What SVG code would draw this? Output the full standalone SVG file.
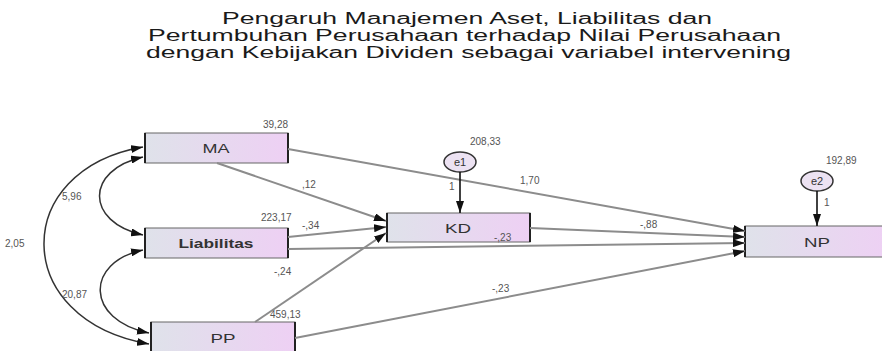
<svg xmlns="http://www.w3.org/2000/svg" width="882" height="351" viewBox="0 0 882 351">
  <style>
    .title { font-family: "Liberation Sans", Arial, sans-serif; font-size: 16px; fill: #1a1a1a; }
    .node-label { font-family: "Liberation Sans", Arial, sans-serif; font-size: 13px; fill: #333; text-anchor: middle; }
    .err-label { font-family: "Liberation Sans", Arial, sans-serif; font-size: 11px; fill: #333; text-anchor: middle; }
    .val { font-family: "Liberation Sans", Arial, sans-serif; font-size: 10px; fill: #555; }
    .box { fill: url(#boxFill); stroke: #666; stroke-width: 1; }
    .edge { stroke: #222; stroke-width: 2; }
    .path-line { fill: none; stroke: #8c8c8c; stroke-width: 2; marker-end: url(#ah); }
    .cov { fill: none; stroke: #333; stroke-width: 1.5; marker-start: url(#ah); marker-end: url(#ah); }
    .err-arrow { fill: none; stroke: #111; stroke-width: 1.6; marker-end: url(#ah); }
    .err { fill: #ece2f2; stroke: #333; stroke-width: 1.5; }
  </style>
  <defs>
    <linearGradient id="boxFill" x1="0" y1="0" x2="1" y2="0">
      <stop offset="0" stop-color="#dfe2ea"/>
      <stop offset="1" stop-color="#eed0f4"/>
    </linearGradient>
    <marker id="ah" viewBox="0 0 12 8" refX="12" refY="4" markerWidth="12" markerHeight="8" orient="auto-start-reverse" markerUnits="userSpaceOnUse">
      <path d="M0,0 L12,4 L0,8 z" fill="#111"/>
    </marker>
  </defs>

  <rect x="0" y="0" width="882" height="351" fill="#ffffff"/>

  <!-- title -->
  <g id="title">
    <text class="title" x="222" y="24" textLength="490" lengthAdjust="spacingAndGlyphs">Pengaruh Manajemen Aset, Liabilitas dan</text>
    <text class="title" x="148" y="41" textLength="633" lengthAdjust="spacingAndGlyphs">Pertumbuhan Perusahaan terhadap Nilai Perusahaan</text>
    <text class="title" x="146" y="58" textLength="645" lengthAdjust="spacingAndGlyphs">dengan Kebijakan Dividen sebagai variabel intervening</text>
  </g>

  <!-- observed variables -->
  <g id="MA">
    <rect class="box" x="145" y="133" width="143" height="30"/>
    <line class="edge" x1="145" y1="133" x2="145" y2="163"/>
    <line class="edge" x1="288" y1="133" x2="288" y2="163"/>
    <text class="node-label" x="216" y="153" textLength="27" lengthAdjust="spacingAndGlyphs">MA</text>
    <text class="val" x="263" y="128">39,28</text>
  </g>

  <g id="Liabilitas">
    <rect class="box" x="145" y="228" width="143" height="30"/>
    <line class="edge" x1="145" y1="228" x2="145" y2="258"/>
    <line class="edge" x1="288" y1="228" x2="288" y2="258"/>
    <text class="node-label" x="216" y="248" textLength="75" lengthAdjust="spacingAndGlyphs" font-weight="bold">Liabilitas</text>
    <text class="val" x="261" y="221">223,17</text>
  </g>

  <g id="PP">
    <rect class="box" x="151" y="322" width="144" height="32"/>
    <line class="edge" x1="151" y1="322" x2="151" y2="354"/>
    <line class="edge" x1="295" y1="322" x2="295" y2="354"/>
    <text class="node-label" x="223" y="343" textLength="25" lengthAdjust="spacingAndGlyphs">PP</text>
    <text class="val" x="270" y="318">459,13</text>
  </g>

  <g id="KD">
    <rect class="box" x="387" y="213" width="143" height="29"/>
    <line class="edge" x1="387" y1="213" x2="387" y2="242"/>
    <line class="edge" x1="530" y1="213" x2="530" y2="242"/>
    <text class="node-label" x="458" y="233" textLength="26" lengthAdjust="spacingAndGlyphs">KD</text>
  </g>

  <g id="NP">
    <rect class="box" x="745" y="226" width="145" height="31"/>
    <line class="edge" x1="745" y1="226" x2="745" y2="257"/>
    <text class="node-label" x="817" y="247" textLength="26" lengthAdjust="spacingAndGlyphs">NP</text>
  </g>

  <!-- error terms -->
  <g id="e1">
    <ellipse class="err" cx="460" cy="162" rx="16" ry="10"/>
    <text class="err-label" x="460" y="166">e1</text>
    <text class="val" x="470" y="145">208,33</text>
  </g>

  <g id="e2">
    <ellipse class="err" cx="817" cy="181" rx="16" ry="10"/>
    <text class="err-label" x="817" y="185">e2</text>
    <text class="val" x="826" y="164">192,89</text>
  </g>

  <!-- connectors -->
  <g id="connectors">
    <!-- covariances between exogenous variables -->
    <path class="cov" d="M143,157 C85,170 85,222 143,235"/>
    <path class="cov" d="M143,147 C10,170 10,320 149,344"/>
    <path class="cov" d="M143,250 C85,262 85,320 149,333"/>

    <!-- regression paths -->
    <line class="path-line" x1="288" y1="149" x2="745" y2="231"/>
    <line class="path-line" x1="217" y1="163" x2="386" y2="221"/>
    <line class="path-line" x1="288" y1="237" x2="386" y2="227"/>
    <line class="path-line" x1="288" y1="249" x2="745" y2="243"/>
    <line class="path-line" x1="255" y1="322" x2="386" y2="233"/>
    <line class="path-line" x1="530" y1="228" x2="745" y2="237"/>
    <line class="path-line" x1="295" y1="338" x2="745" y2="251"/>

    <!-- error arrows -->
    <line class="err-arrow" x1="460" y1="172" x2="460" y2="213"/>
    <line class="err-arrow" x1="817" y1="191" x2="817" y2="226"/>

    <!-- coefficients -->
    <text class="val" x="5" y="247">2,05</text>
    <text class="val" x="62" y="200">5,96</text>
    <text class="val" x="62" y="298">20,87</text>
    <text class="val" x="302" y="188">,12</text>
    <text class="val" x="520" y="184">1,70</text>
    <text class="val" x="302" y="229">-,34</text>
    <text class="val" x="274" y="275">-,24</text>
    <text class="val" x="494" y="241">-,23</text>
    <text class="val" x="640" y="228">-,88</text>
    <text class="val" x="492" y="292">-,23</text>
    <text class="val" x="449" y="190">1</text>
    <text class="val" x="824" y="206">1</text>
  </g>
</svg>
